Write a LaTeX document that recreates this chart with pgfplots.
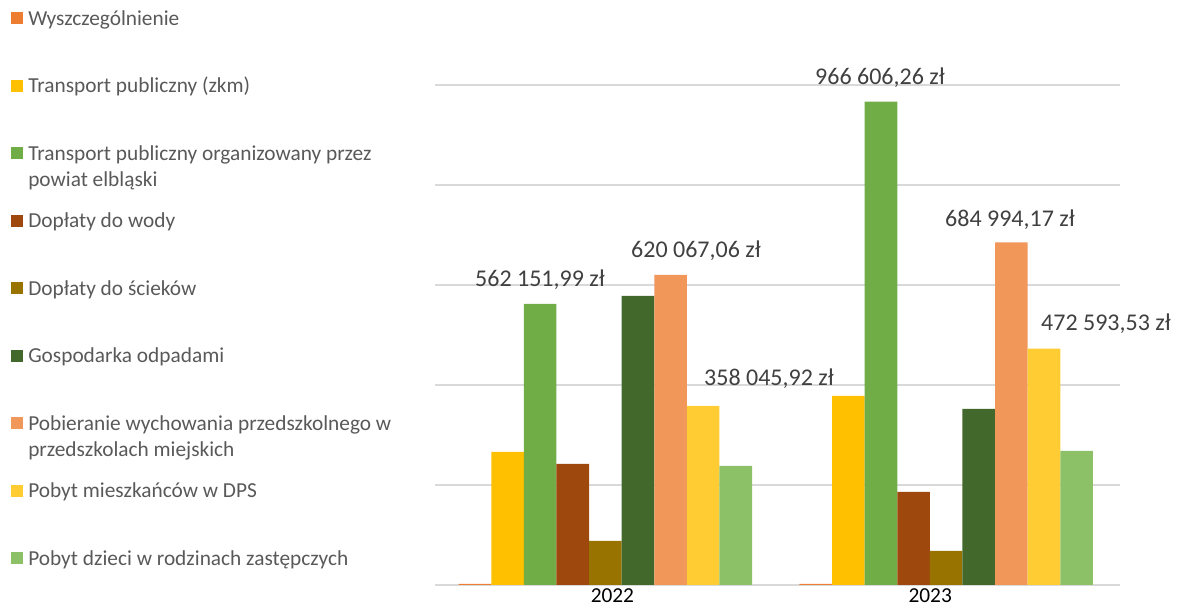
\documentclass[border=0pt]{standalone}
\usepackage{fontspec}
\setmainfont{Carlito}
\usepackage{pgfplots}
\pgfplotsset{compat=1.18}
\definecolor{cA}{HTML}{ED7D31}
\definecolor{cB}{HTML}{FFC000}
\definecolor{cC}{HTML}{70AD47}
\definecolor{cD}{HTML}{9E480E}
\definecolor{cE}{HTML}{997300}
\definecolor{cF}{HTML}{43682B}
\definecolor{cG}{HTML}{F1975A}
\definecolor{cH}{HTML}{FFCD33}
\definecolor{cI}{HTML}{8CC168}
\definecolor{gridc}{HTML}{D9D9D9}
\definecolor{legtxt}{HTML}{595959}
\definecolor{labtxt}{HTML}{404040}
\pgfplotsset{sq/.style={legend image code/.code={\fill[##1] (0pt,0.75pt) rectangle (9pt,9.75pt);}}}
\newcommand{\two}[2]{\vtop{\hbox{#1}\hbox{#2}}}

\begin{document}
\begin{tikzpicture}
\path[use as bounding box] (-326.25pt,-15.75pt) rectangle (559.5pt,438.75pt);
\begin{axis}[
    at={(0pt,0pt)}, anchor=south west,
    scale only axis,
    width=513.75pt, height=375pt,
    xmin=-0.5, xmax=1.51,
    ymin=0, ymax=1000000,
    ybar=0pt, bar width=24.45pt,
    axis x line*=bottom,
    x axis line style={draw=gridc, line width=1pt},
    y axis line style={draw=none},
    ymajorgrids,
    ytick={0,200000,400000,600000,800000,1000000},
    yticklabels={},
    grid style={draw=gridc, line width=1pt},
    xtick={0.0205,0.953},
    xticklabels={2022,2023},
    major tick length=0pt,
    xticklabel style={font=\fontsize{16}{19}\selectfont, text=black, anchor=base, inner sep=0pt, yshift=-13.5pt},
    scaled y ticks=false,
    clip=false,
    legend style={
        at={(axis description cs:-0.61898,1.152)}, anchor=north west,
        draw=none, fill=none, inner sep=0pt,
        font=\fontsize{16}{19.5}\selectfont, text=legtxt,
        cells={anchor=base west},
        nodes={inner sep=0pt, text height=12pt, text depth=0pt},
        row sep={50.625pt,between origins},
        column sep=3.75pt,
    },
]
\addplot[fill=cA, draw=none, sq] coordinates {(0,2022) (1,2023)};
\addplot[fill=cB, draw=none, sq] coordinates {(0,266000) (1,378000)};
\addplot[fill=cC, draw=none, sq] coordinates {(0,562151.99) (1,966606.26)};
\addplot[fill=cD, draw=none, sq] coordinates {(0,242000) (1,186000)};
\addplot[fill=cE, draw=none, sq] coordinates {(0,88000) (1,68000)};
\addplot[fill=cF, draw=none, sq] coordinates {(0,578000) (1,352000)};
\addplot[fill=cG, draw=none, sq] coordinates {(0,620067.06) (1,684994.17)};
\addplot[fill=cH, draw=none, sq] coordinates {(0,358045.92) (1,472593.53)};
\addplot[fill=cI, draw=none, sq] coordinates {(0,238000) (1,268000)};
\addlegendentry{Wyszczególnienie}
\addlegendentry{Transport publiczny (zkm)}
\addlegendentry{\two{Transport publiczny organizowany przez}{powiat elbląski}}
\addlegendentry{Dopłaty do wody}
\addlegendentry{Dopłaty do ścieków}
\addlegendentry{Gospodarka odpadami}
\addlegendentry{\two{Pobieranie wychowania przedszkolnego w}{przedszkolach miejskich}}
\addlegendentry{Pobyt mieszkańców w DPS}
\addlegendentry{Pobyt dzieci w rodzinach zastępczych}
\begin{scope}[every node/.style={font=\fontsize{18}{22}\selectfont, text=labtxt, anchor=base, inner sep=0pt}]
\node at (axis cs:-0.1919,596000) {562 151,99 zł};
\node at (axis cs:0.2658,654000) {620 067,06 zł};
\node at (axis cs:0.4801,398000) {358 045,92 zł};
\node at (axis cs:0.8058,1000000) {966 606,26 zł};
\node at (axis cs:1.1872,716000) {684 994,17 zł};
\node at (axis cs:1.4689,508000) {472 593,53 zł};
\end{scope}
\end{axis}
\end{tikzpicture}
\end{document}
